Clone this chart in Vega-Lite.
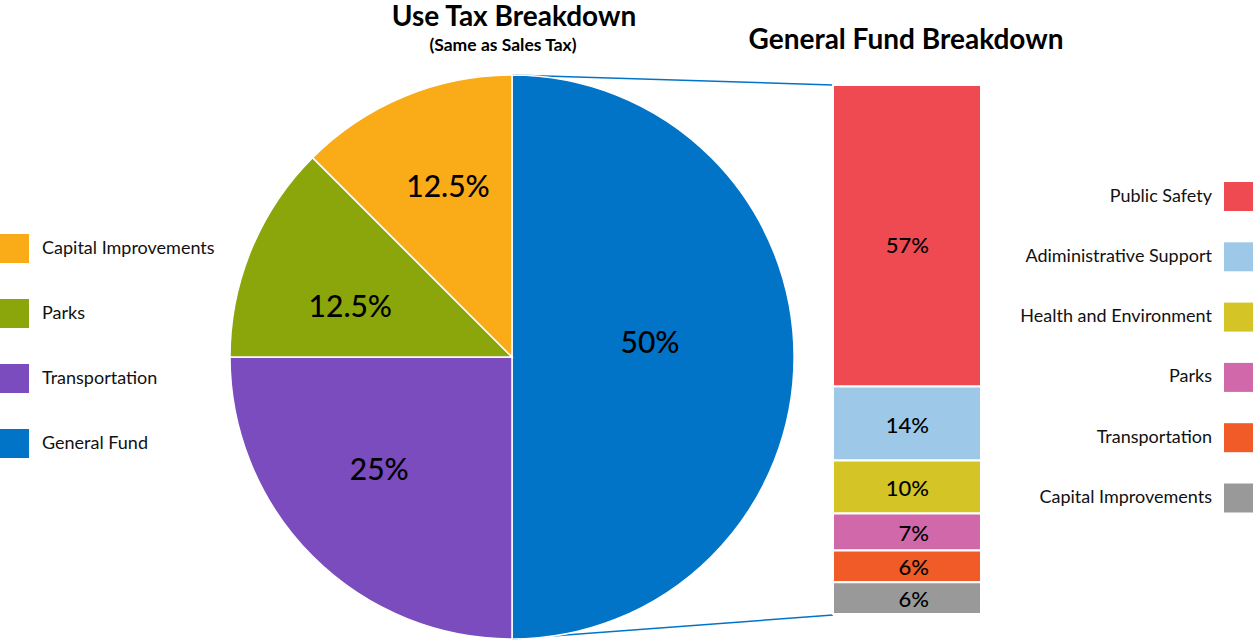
{
  "$schema": "https://vega.github.io/schema/vega-lite/v6.json",
  "width": 1254,
  "height": 641,
  "autosize": {"type": "fit", "contains": "padding"},
  "padding": 0,
  "background": "white",
  "config": {"view": {"stroke": null}, "font": "Lato"},
  "datasets": {
    "pie": [
      {"cat": "General Fund", "share": 0.5},
      {"cat": "Transportation", "share": 0.25},
      {"cat": "Parks", "share": 0.125},
      {"cat": "Capital Improvements", "share": 0.125}
    ],
    "fund": [
      {"cat": "Public Safety", "pct": 0.57},
      {"cat": "Adiministrative Support", "pct": 0.14},
      {"cat": "Health and Environment", "pct": 0.10},
      {"cat": "Parks", "pct": 0.07},
      {"cat": "Transportation", "pct": 0.06},
      {"cat": "Capital Improvements", "pct": 0.06}
    ]
  },
  "layer": [
    {
      "data": {"values": [{}]},
      "mark": {"type": "rule", "color": "#0174C8", "strokeWidth": 1.5},
      "encoding": {"x": {"value": 512}, "y": {"value": 75}, "x2": {"value": 833}, "y2": {"value": 85}}
    },
    {
      "data": {"values": [{}]},
      "mark": {"type": "rule", "color": "#0174C8", "strokeWidth": 1.5},
      "encoding": {"x": {"value": 512}, "y": {"value": 639}, "x2": {"value": 833}, "y2": {"value": 615}}
    },
    {
      "data": {"name": "pie"},
      "transform": [
        {"stack": "share", "groupby": [], "sort": [{"field": "share", "order": "descending"}, {"field": "cat", "order": "descending"}], "as": ["t0", "t1"]}
      ],
      "mark": {"type": "arc", "x": 512, "y": 357, "outerRadius": 282, "stroke": "white", "strokeWidth": 1.5},
      "encoding": {
        "theta": {"field": "t0", "type": "quantitative", "scale": {"domain": [0, 1]}},
        "theta2": {"field": "t1"},
        "color": {
          "field": "cat", "type": "nominal",
          "scale": {
            "domain": ["Capital Improvements", "Parks", "Transportation", "General Fund"],
            "range": ["#FAAB18", "#8BA60B", "#7B4CBE", "#0174C8"]
          },
          "legend": {
            "orient": "none", "legendX": 0, "legendY": 234, "title": null,
            "symbolType": "square", "symbolSize": 841, "symbolStrokeWidth": 0, "symbolOpacity": 1,
            "labelFont": "Lato", "labelFontSize": 18, "labelColor": "#111", "labelOffset": 13, "labelLimit": 0,
            "rowPadding": 36, "padding": 0
          }
        }
      }
    },
    {
      "data": {"name": "pie"},
      "transform": [
        {"stack": "share", "groupby": [], "sort": [{"field": "share", "order": "descending"}, {"field": "cat", "order": "descending"}], "as": ["t0", "t1"]},
        {"calculate": "(datum.t0 + datum.t1) / 2", "as": "tmid"}
      ],
      "mark": {
        "type": "text", "x": 512, "y": 357,
        "radius": {"expr": "datum.cat == 'General Fund' ? 138 : 175"},
        "dy": {"expr": "datum.cat == 'General Fund' ? -13 : datum.cat == 'Parks' ? 18 : datum.cat == 'Transportation' ? -10 : -7"},
        "dx": {"expr": "datum.cat == 'Transportation' ? -9 : datum.cat == 'Capital Improvements' ? 3 : 0"},
        "font": "Lato", "fontSize": 30, "fontWeight": 500, "color": "#000", "align": "center", "baseline": "middle"
      },
      "encoding": {
        "theta": {"field": "tmid", "type": "quantitative", "scale": {"domain": [0, 1]}},
        "text": {"field": "share", "format": ".1~%"}
      }
    },
    {
      "data": {"name": "fund"},
      "transform": [
        {"stack": "pct", "groupby": [], "sort": [{"field": "pct", "order": "ascending"}, {"field": "cat", "order": "ascending"}], "as": ["y0", "y1"]}
      ],
      "mark": {"type": "bar", "stroke": "white", "strokeWidth": 2},
      "encoding": {
        "x": {"value": 833},
        "x2": {"value": 981},
        "y": {
          "field": "y0", "type": "quantitative",
          "scale": {"domain": [-0.04906, 1.1604], "nice": false, "zero": false},
          "axis": null
        },
        "y2": {"field": "y1"},
        "color": {
          "field": "cat", "type": "nominal",
          "scale": {
            "domain": ["Public Safety", "Adiministrative Support", "Health and Environment", "Parks", "Transportation", "Capital Improvements"],
            "range": ["#EF4A51", "#9DC8E8", "#D4C425", "#D168A9", "#F15B27", "#999999"]
          },
          "legend": {
            "orient": "none", "legendX": 1224, "legendY": 182, "title": null,
            "symbolType": "square", "symbolSize": 841, "symbolStrokeWidth": 0, "symbolOpacity": 1,
            "labelFont": "Lato", "labelFontSize": 18, "labelColor": "#111", "labelAlign": "right", "labelOffset": -41, "labelLimit": 0,
            "rowPadding": 31.3, "padding": 0
          }
        }
      }
    },
    {
      "data": {"name": "fund"},
      "transform": [
        {"stack": "pct", "groupby": [], "sort": [{"field": "pct", "order": "ascending"}, {"field": "cat", "order": "ascending"}], "as": ["y0", "y1"]},
        {"calculate": "(datum.y0 + datum.y1) / 2", "as": "ymid"}
      ],
      "mark": {
        "type": "text", "align": "right", "baseline": "middle", "font": "Lato", "fontSize": 22, "fontWeight": 500, "color": "#000",
        "dy": {"expr": "datum.cat == 'Public Safety' ? 10 : 2"}
      },
      "encoding": {
        "x": {"value": 929},
        "y": {"field": "ymid", "type": "quantitative", "scale": {"domain": [-0.04906, 1.1604], "nice": false, "zero": false}, "axis": null},
        "text": {"field": "pct", "format": ".0%"}
      }
    },
    {
      "data": {"values": [{"t": "Use Tax Breakdown"}]},
      "mark": {"type": "text", "x": 514, "y": 26, "align": "center", "baseline": "alphabetic", "font": "Lato", "fontSize": 28, "fontWeight": "bold", "color": "#000"},
      "encoding": {"text": {"field": "t"}}
    },
    {
      "data": {"values": [{"t": "(Same as Sales Tax)"}]},
      "mark": {"type": "text", "x": 503, "y": 46, "align": "center", "baseline": "middle", "font": "Lato", "fontSize": 17.5, "fontWeight": "bold", "color": "#000"},
      "encoding": {"text": {"field": "t"}}
    },
    {
      "data": {"values": [{"t": "General Fund Breakdown"}]},
      "mark": {"type": "text", "x": 906, "y": 41, "align": "center", "baseline": "middle", "font": "Lato", "fontSize": 28, "fontWeight": "bold", "color": "#000"},
      "encoding": {"text": {"field": "t"}}
    }
  ],
  "resolve": {"scale": {"color": "independent"}, "legend": {"color": "independent"}}
}
